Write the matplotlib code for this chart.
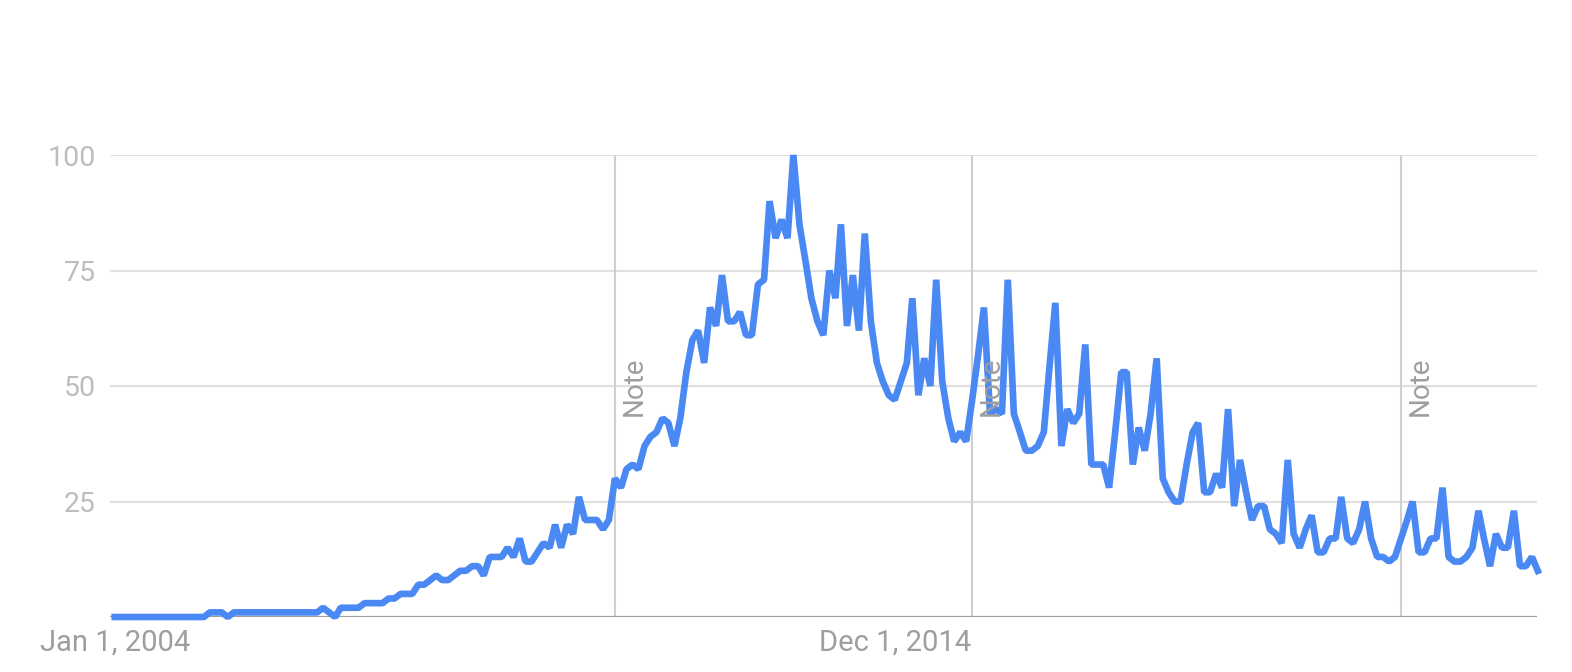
import numpy as np
import pandas as pd
import matplotlib
matplotlib.use("Agg")
import matplotlib.pyplot as plt

# Monthly search interest, Jan 2004 .. Dec 2023 (one row per year)
interest = [
    0, 0, 0, 0, 0, 0, 0, 0, 0, 0, 0, 0,
    0, 0, 0, 0, 1, 1, 1, 0, 1, 1, 1, 1,
    1, 1, 1, 1, 1, 1, 1, 1, 1, 1, 1, 2,
    1, 0, 2, 2, 2, 2, 3, 3, 3, 3, 4, 4,
    5, 5, 5, 7, 7, 8, 9, 8, 8, 9, 10, 10,
    11, 11, 9, 13, 13, 13, 15, 13, 17, 12, 12, 14,
    16, 15, 20, 15, 20, 18, 26, 21, 21, 21, 19, 21,
    30, 28, 32, 33, 32, 37, 39, 40, 43, 42, 37, 43,
    53, 60, 62, 55, 67, 63, 74, 64, 64, 66, 61, 61,
    72, 73, 90, 82, 86, 82, 100, 85, 77, 69, 64, 61,
    75, 69, 85, 63, 74, 62, 83, 64, 55, 51, 48, 47,
    51, 55, 69, 48, 56, 50, 73, 51, 43, 38, 40, 38,
    47, 57, 67, 44, 45, 44, 73, 44, 40, 36, 36, 37,
    40, 55, 68, 37, 45, 42, 44, 59, 33, 33, 33, 28,
    40, 53, 53, 33, 41, 36, 44, 56, 30, 27, 25, 25,
    33, 40, 42, 27, 27, 31, 28, 45, 24, 34, 27, 21,
    24, 24, 19, 18, 16, 34, 18, 15, 19, 22, 14, 14,
    17, 17, 26, 17, 16, 19, 25, 17, 13, 13, 12, 13,
    17, 21, 25, 14, 14, 17, 17, 28, 13, 12, 12, 13,
    15, 23, 17, 11, 18, 15, 15, 23, 11, 11, 13, 10,
]
start_month = "2004-01-01"
note_dates = ["2011-01-01", "2016-01-01", "2022-01-01"]
x_tick_dates = ["2004-01-01", "2014-12-01"]
x_tick_labels = ["Jan 1, 2004", "Dec 1, 2014"]
y_ticks = [25, 50, 75, 100]

months = pd.date_range(start_month, periods=len(interest), freq="MS")

plt.rcParams['font.family'] = ['Roboto', 'DejaVu Sans']

fig = plt.figure(figsize=(15.72, 6.72), dpi=100)
ax = fig.add_axes([110 / 1572, 55 / 672, 1427 / 1572, 462 / 672])

# horizontal grid
for v in y_ticks:
    ax.axhline(v, color='#e0e0e0', lw=1.5, zorder=1)
ax.axhline(0, color='#9e9e9e', lw=1.6, zorder=2)

# note markers
for d in note_dates:
    t = pd.Timestamp(d)
    ax.axvline(t, color='#cfcfcf', lw=1.5, zorder=1)
    ax.annotate('Note', xy=(t, 50), xytext=(14, 0), textcoords='offset points',
                rotation=90, ha='center', va='center', fontsize=20,
                color='#9e9e9e', zorder=4)

ax.plot(months, interest, color='#4a89f3', lw=4.8, solid_joinstyle='bevel',
        clip_on=False, zorder=3)

ax.set_xlim(months[0] - pd.Timedelta(days=24), months[-1] - pd.Timedelta(days=4))
ax.set_ylim(0, 100)

ax.set_yticks(y_ticks)
ax.set_yticklabels([str(v) for v in y_ticks])
ax.set_xticks([pd.Timestamp(d) for d in x_tick_dates])
ax.set_xticklabels(x_tick_labels)
ax.tick_params(axis='y', length=0, pad=10, labelsize=20.5, labelcolor='#bdbdbd')
ax.tick_params(axis='x', length=0, pad=8, labelsize=21, labelcolor='#9e9e9e')

for s in ax.spines.values():
    s.set_visible(False)

fig.savefig('out.png', dpi=100)
